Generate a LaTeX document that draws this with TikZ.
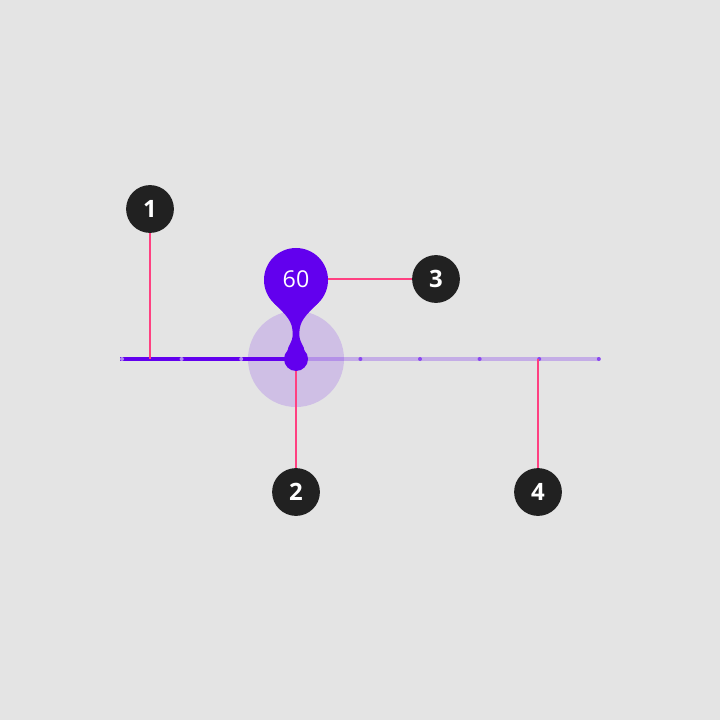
\documentclass[tikz,border=0pt]{standalone}
\usepackage{fontspec}
\setmainfont{Open Sans}
\usepackage{xcolor}
\usetikzlibrary{positioning}
\definecolor{bgray}{HTML}{E4E4E4}
\definecolor{sprimary}{HTML}{6200EE}
\definecolor{spink}{HTML}{FF4081}
\definecolor{sdark}{HTML}{212121}
\definecolor{tickon}{HTML}{B08AF2}
\definecolor{tickoff}{HTML}{8A48F0}

\tikzset{
    callout/.style={circle, fill=sdark, text=white, minimum size=34pt, inner sep=0pt, font=\fontsize{17}{17}\selectfont\bfseries},
    leader/.style={spink, line width=1.4pt},
}

\begin{document}
\begin{tikzpicture}[x=0.025cm, y=-0.025cm]
    \fill[bgray] (0,0) rectangle (720,720);
    \useasboundingbox (0,0) rectangle (720,720);
    % track
    \coordinate (tstart) at (120,359);
    \coordinate (tend) at (600,359);
    \coordinate (thumb) at (296,359);
    \fill[sprimary, opacity=0.16] (thumb) circle (48);
    \draw[sprimary, opacity=0.24, line width=2.9pt] (tstart) -- (tend);
    \draw[sprimary, line width=2.9pt] (tstart) -- (thumb);
    \foreach \i in {0,1,2} { \fill[tickon] (122+59.6*\i,359) circle (2); }
    \foreach \i in {4,...,8} { \fill[tickoff] (122+59.6*\i,359) circle (2); }
    % value indicator
    \fill[sprimary] (296,280) circle (32);
    \fill[sprimary] (thumb) circle (12);
    \fill[sprimary] (273.4,302.6) .. controls (287,316) and (292.7,321) .. (292.7,334)
        .. controls (292.7,343) and (287.5,346) .. (287.5,351) -- (304.5,351)
        .. controls (304.5,346) and (299.3,343) .. (299.3,334)
        .. controls (299.3,321) and (305,316) .. (318.6,302.6) -- (296,280) -- cycle;
    \node[text=white, font=\fontsize{16.5}{16.5}\selectfont] (val) at (296,279) {60};
    % callouts
    \node[callout] (c1) at (150,209) {1};
    \node[callout] (c2) at (296,492) {2};
    \node[callout] (c3) at (436,279) {3};
    \node[callout] (c4) at (538,492) {4};
    \coordinate (p1) at (150,359);
    \coordinate (p2) at (296,371);
    \coordinate (p3) at (328,279);
    \coordinate (p4) at (538,359);
    \draw[leader] (c1) -- (p1);
    \draw[leader] (p2) -- (c2);
    \draw[leader] (p3) -- (c3);
    \draw[leader] (p4) -- (c4);
\end{tikzpicture}
\end{document}
